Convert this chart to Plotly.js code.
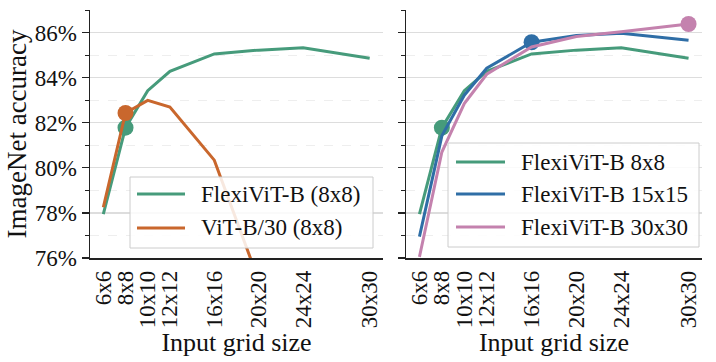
<!DOCTYPE html>
<html>
<head>
<meta charset="utf-8">
<script src="https://cdn.plot.ly/plotly-3.0.1.min.js"></script>
<style>html,body{margin:0;padding:0;background:#fff;}#chart{width:716px;height:362px;}</style>
</head>
<body>
<div id="chart"></div>
<script>
// ---- data ----
const gridSizes = [6, 8, 10, 12, 16, 20, 24, 30];
const gridLabels = ["6x6", "8x8", "10x10", "12x12", "16x16", "20x20", "24x24", "30x30"];
const flexi8 = [77.95, 81.78, 83.42, 84.28, 85.05, 85.22, 85.33, 84.86];
const vit30Sizes = [6, 8, 10, 12, 16, 20];
const vit30 = [78.25, 82.43, 82.99, 82.70, 80.34, 75.0];
const flexi15 = [76.95, 81.42, 83.22, 84.42, 85.57, 85.87, 85.97, 85.66];
const flexi30 = [76.05, 80.70, 82.85, 84.15, 85.36, 85.82, 86.04, 86.38];
const leftNames = ["FlexiViT-B (8x8)", "ViT-B/30 (8x8)"];
const rightNames = ["FlexiViT-B 8x8", "FlexiViT-B 15x15", "FlexiViT-B 30x30"];

const cGreen = "#469b7b", cOrange = "#c9672d", cBlue = "#2f6ea6", cPink = "#c482ae";
const FONT = "Liberation Serif";
const LW = 3, MS = 16;

const traces = [
  {x: gridSizes, y: flexi8, mode: "lines", line: {color: cGreen, width: LW}, xaxis: "x", yaxis: "y"},
  {x: [gridSizes[1]], y: [flexi8[1]], mode: "markers", marker: {color: cGreen, size: MS}, xaxis: "x", yaxis: "y"},
  {x: vit30Sizes, y: vit30, mode: "lines", line: {color: cOrange, width: LW}, xaxis: "x", yaxis: "y"},
  {x: [vit30Sizes[1]], y: [vit30[1]], mode: "markers", marker: {color: cOrange, size: MS}, xaxis: "x", yaxis: "y"},

  {x: gridSizes, y: flexi8, mode: "lines", line: {color: cGreen, width: LW}, xaxis: "x2", yaxis: "y2"},
  {x: [gridSizes[1]], y: [flexi8[1]], mode: "markers", marker: {color: cGreen, size: MS}, xaxis: "x2", yaxis: "y2"},
  {x: gridSizes, y: flexi15, mode: "lines", line: {color: cBlue, width: LW}, xaxis: "x2", yaxis: "y2"},
  {x: [gridSizes[4]], y: [flexi15[4]], mode: "markers", marker: {color: cBlue, size: MS}, xaxis: "x2", yaxis: "y2"},
  {x: gridSizes, y: flexi30, mode: "lines", line: {color: cPink, width: LW}, xaxis: "x2", yaxis: "y2"},
  {x: [gridSizes[7]], y: [flexi30[7]], mode: "markers", marker: {color: cPink, size: MS}, xaxis: "x2", yaxis: "y2"}
];

const W = 716, H = 362;
const px = v => v / W, py = v => 1 - v / H;
const yDom = [py(258), py(10)];
function xAxis(dom) {
  return {
    domain: dom, range: [4.8, 31.2], tickvals: gridSizes, ticktext: gridLabels, tickangle: -90,
    showgrid: false, zeroline: false, showline: true, linecolor: "#222", linewidth: 1.5,
    ticks: "", ticklabelstandoff: 2,
    tickfont: {family: FONT, size: 23, color: "#111"},
    title: {text: "Input grid size", font: {family: FONT, size: 26, color: "#111"}, standoff: 0}
  };
}
function yAxis(labels, anchor) {
  return {
    domain: yDom, range: [76, 87], tick0: 76, dtick: 2, anchor: anchor,
    showticklabels: labels, ticksuffix: "%",
    showgrid: true, gridcolor: "#dddddd", gridwidth: 1.2, zeroline: false,
    showline: true, linecolor: "#222", linewidth: 1.5,
    ticks: "outside", ticklen: 7, tickwidth: 1.2, tickcolor: "#222",
    tickfont: {family: FONT, size: 23, color: "#111"},
    minor: {dtick: 1, tick0: 76, ticks: "outside", ticklen: 4, tickwidth: 1, tickcolor: "#222", showgrid: true, gridcolor: "#eeeeee", griddash: "dash", gridwidth: 1},
    title: labels ? {text: "ImageNet accuracy", font: {family: FONT, size: 27, color: "#111"}, standoff: 0} : {text: ""}
  };
}

// custom legends (matplotlib style: long line samples)
const shapes = [], annotations = [];
function addLegend(box, rows, names, colors) {
  shapes.push({type: "rect", xref: "paper", yref: "paper", x0: px(box[0]), x1: px(box[1]), y0: py(box[3]), y1: py(box[2]),
    fillcolor: "rgba(255,255,255,0.85)", line: {color: "#cccccc", width: 1}, layer: "above"});
  names.forEach((n, i) => {
    shapes.push({type: "line", xref: "paper", yref: "paper", x0: px(box[4]), x1: px(box[5]), y0: py(rows[i]), y1: py(rows[i]),
      line: {color: colors[i], width: LW}, layer: "above"});
    annotations.push({xref: "paper", yref: "paper", x: px(box[6]), y: py(rows[i]), xanchor: "left", yanchor: "middle",
      text: n, showarrow: false, font: {family: FONT, size: 23, color: "#111"}});
  });
}
addLegend([130, 373, 177, 248, 137, 185, 199], [194, 228], leftNames, [cGreen, cOrange]);
addLegend([448, 699, 143, 247, 456, 505, 519], [162, 194, 227], rightNames, [cGreen, cBlue, cPink]);

const layout = {
  width: W, height: H, margin: {l: 0, r: 0, t: 0, b: 0},
  paper_bgcolor: "#fff", plot_bgcolor: "#fff", showlegend: false,
  xaxis: Object.assign(xAxis([px(90), px(383)]), {anchor: "y"}),
  xaxis2: Object.assign(xAxis([px(406), px(702)]), {anchor: "y2"}),
  yaxis: yAxis(true, "x"),
  yaxis2: yAxis(false, "x2"),
  shapes: shapes, annotations: annotations
};
Plotly.newPlot("chart", traces, layout, {staticPlot: true, displayModeBar: false});
</script>
</body>
</html>
